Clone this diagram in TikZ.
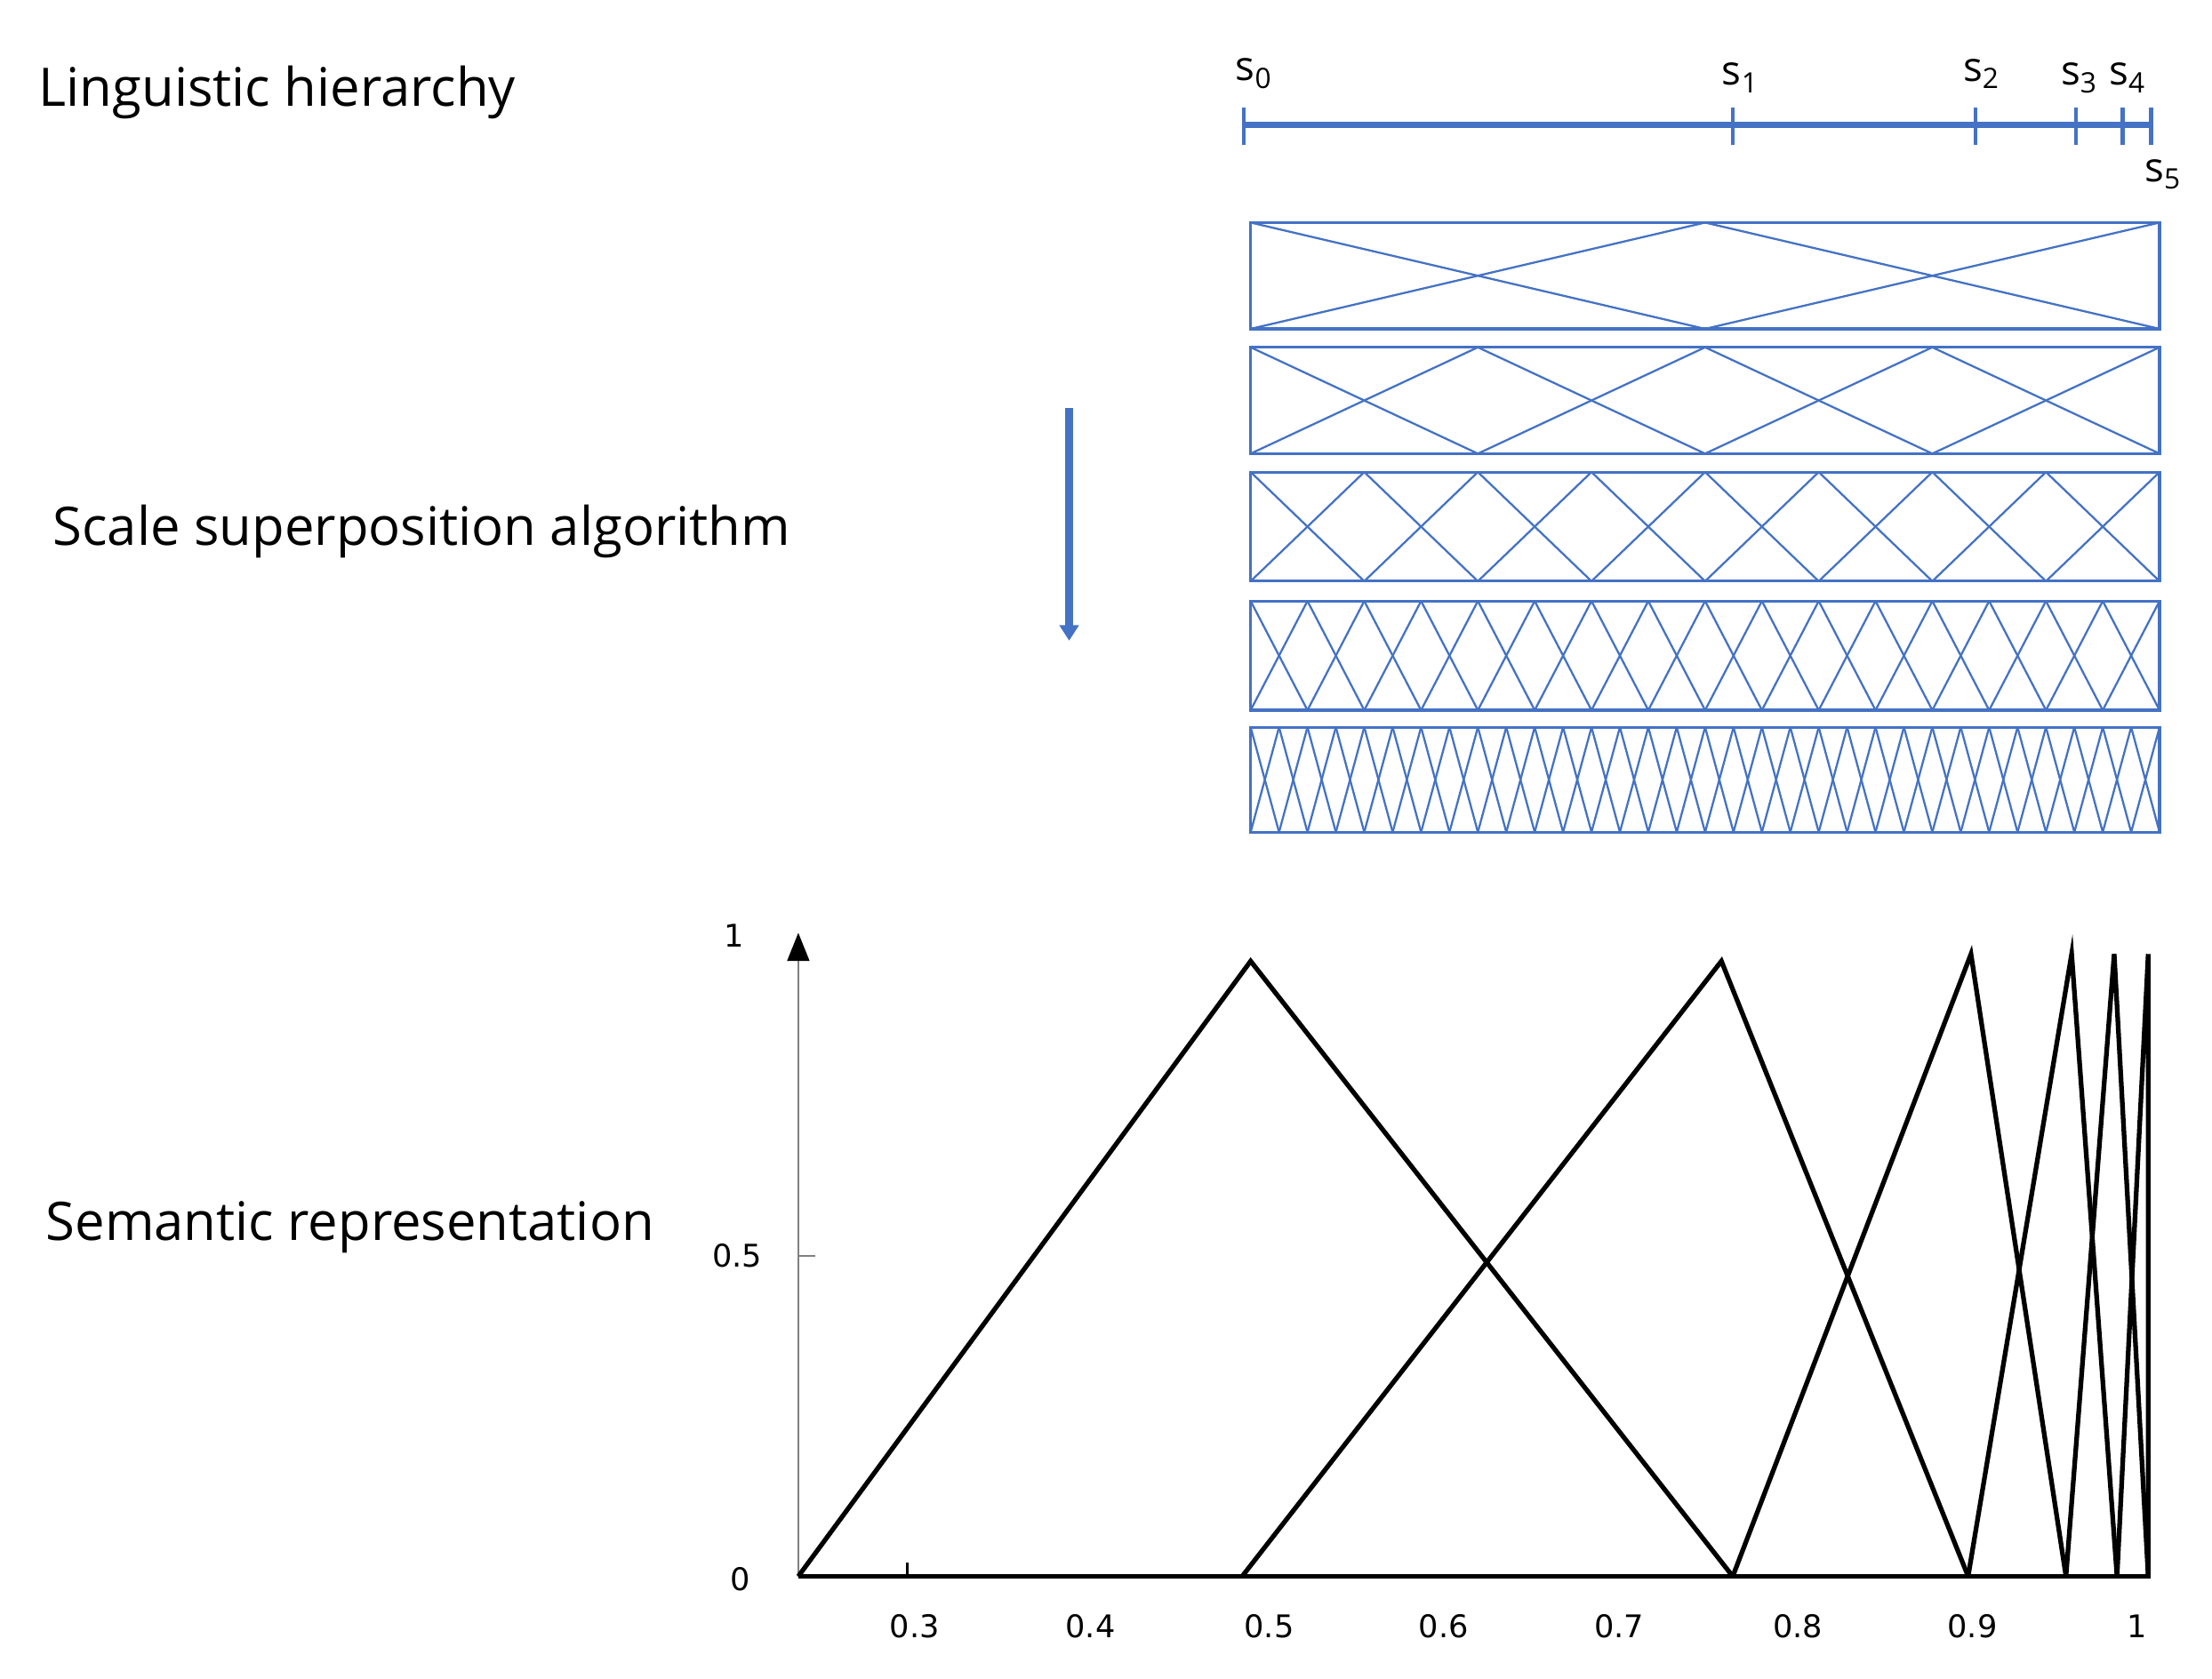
\documentclass[tikz,border=0pt]{standalone}
\usepackage{fontspec}
\setmainfont{Open Sans}
\newfontfamily\tickfont{DejaVu Sans}
\usetikzlibrary{arrows.meta}
\definecolor{myblue}{HTML}{4472C4}
\newcommand{\sub}[1]{\raisebox{-0.35ex}{\fontsize{9}{10}\selectfont #1}}
\begin{document}
\begin{tikzpicture}[x=0.015949cm,y=-0.015949cm,
  lab/.style={font=\fontsize{17}{20}\selectfont,anchor=west,inner sep=0},
  slab/.style={font=\fontsize{13}{15}\selectfont,inner sep=0},
  tick/.style={font=\tickfont\fontsize{10}{12}\selectfont,inner sep=0},
  box/.style={draw=myblue,line width=0.9pt},
  zig/.style={draw=myblue,line width=0.65pt},
  tri/.style={draw=black,line width=1.5pt,line join=miter}]
\useasboundingbox (0,0) rectangle (1560,1184);
% labels
\node[lab] (lh) at (27,65) {Linguistic hierarchy};
\node[lab] (ssa) at (37,375) {Scale superposition algorithm};
\node[lab] (sr) at (32,866) {Semantic representation};
% hierarchy axis
\coordinate (a0) at (877,88); \coordinate (a5) at (1517,88);
\draw[myblue,line width=1.8pt] (a0) -- (a5);
\foreach \x in {877,1222,1393,1464,1497,1517}
  \draw[myblue,line width=1.2pt] (\x,76) -- (\x,102);
\node[slab] (s0) at (884,52) {s\sub{0}};
\node[slab] (s1) at (1227,55) {s\sub{1}};
\node[slab] (s2) at (1397,52) {s\sub{2}};
\node[slab] (s3) at (1466,55) {s\sub{3}};
\node[slab] (s4) at (1500,55) {s\sub{4}};
\node[slab] (s5) at (1525,123) {s\sub{5}};
% boxes
\foreach \yt/\yb/\n in {157/232/2,245/320/4,333/410/8,424/501/16,513/587/32}{
  \pgfmathsetmacro{\w}{641/\n}
  \foreach \k in {1,...,\n}{
    \pgfmathsetmacro{\xa}{882+(\k-1)*\w}
    \pgfmathsetmacro{\xb}{882+\k*\w}
    \draw[zig] (\xa,\yt) -- (\xb,\yb);
    \draw[zig] (\xa,\yb) -- (\xb,\yt);
  }
  \draw[box] (882,\yt) rectangle (1523,\yb);
}
% arrow
\coordinate (ar0) at (754,288); \coordinate (ar1) at (754,452);
\draw[myblue,line width=2.4pt,-{Triangle[length=5pt,width=6pt]}] (ar0) -- (ar1);
% chart axes
\coordinate (o) at (563,1112);
\coordinate (yt) at (563,658);
\coordinate (xe) at (1517,1112);
\draw[gray,line width=0.8pt,-{Triangle[length=9pt,width=7pt,color=black]}] (o) -- (yt);
\draw[black,line width=1.5pt] (o) -- (xe);
\draw[gray,line width=0.8pt] (563,886) -- (575,886);
\draw[black,line width=0.8pt] (640,1112) -- (640,1102);
\node[tick] (y1) at (518,660) {1};
\node[tick] (y05) at (520,886) {0.5};
\node[tick] (y0) at (522,1114) {0};
\foreach \v/\x in {0.3/645,0.4/769,0.5/895,0.6/1018,0.7/1142,0.8/1268,0.9/1391,1/1507}
  \node[tick] at (\x,1147) {\v};
% triangles
\draw[tri] (563,1112) -- (882,678) -- (1222,1112);
\draw[tri] (876,1112) -- (1214,678) -- (1388,1112);
\draw[tri] (1222,1112) -- (1390,673) -- (1457,1112);
\draw[tri] (1388,1112) -- (1461,673) -- (1493,1112);
\draw[tri] (1457,1112) -- (1491,673) -- (1515,1112);
\draw[tri] (1493,1112) -- (1515,673) -- (1515,1112);
\end{tikzpicture}
\end{document}
